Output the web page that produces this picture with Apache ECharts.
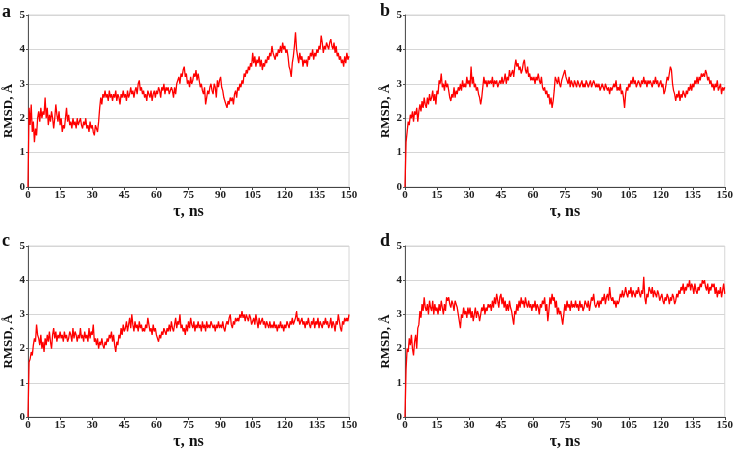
<!DOCTYPE html>
<html>
<head>
<meta charset="utf-8">
<script src="https://cdn.jsdelivr.net/npm/echarts@6/dist/echarts.min.js"></script>
<style>html,body{margin:0;padding:0;background:#fff}#c{width:736px;height:451px}</style>
</head>
<body>
<div id="c"></div>
<script>
// Sample times: every 0.5 ns from 0 to 150 ns
const times = [];
for (let i = 0; i <= 300; i++) times.push(i * 0.5);

const xTicks = [0, 15, 30, 45, 60, 75, 90, 105, 120, 135, 150];
const yTicks = [0, 1, 2, 3, 4, 5];
const panelLabels = ['a', 'b', 'c', 'd'];

const rmsdA = [
0.0,2.3,1.8,2.4,1.6,1.9,1.3,1.7,1.5,2.0,
2.2,1.9,2.3,2.0,2.2,2.1,2.6,2.0,2.3,1.8,
2.1,1.9,2.2,2.0,1.7,2.0,2.4,2.1,1.9,2.2,
1.8,2.0,1.6,1.8,1.7,2.0,2.3,1.9,2.1,1.8,
1.9,1.7,2.0,1.8,1.9,1.7,2.0,1.8,1.9,2.0,
1.8,1.7,1.9,1.8,2.0,1.7,1.8,1.6,1.9,1.7,
1.8,1.6,1.5,1.8,1.7,1.6,1.9,2.3,2.6,2.4,
2.7,2.6,2.8,2.6,2.7,2.5,2.8,2.6,2.7,2.5,
2.7,2.6,2.8,2.5,2.7,2.6,2.4,2.7,2.6,2.8,
2.6,2.7,2.5,2.8,2.6,2.7,2.9,2.7,2.8,2.6,
2.8,2.9,2.7,3.0,3.1,2.8,2.9,2.7,2.8,2.6,
2.7,2.5,2.8,2.7,2.6,2.8,2.5,2.7,2.8,2.6,
2.8,2.7,2.9,2.8,2.6,2.9,2.8,3.0,2.7,2.9,
2.8,2.9,2.7,2.8,2.9,2.8,2.6,2.9,2.7,3.0,
3.1,3.2,3.0,3.3,3.2,3.4,3.5,3.2,3.3,3.0,
3.1,2.9,3.2,3.0,3.1,3.3,3.2,3.4,3.1,3.3,
3.1,2.9,3.0,2.8,2.7,2.9,2.4,2.6,2.8,2.7,
2.9,3.0,2.8,2.7,3.0,2.9,2.6,3.1,2.9,3.1,
3.2,2.9,2.8,2.6,2.5,2.4,2.3,2.5,2.4,2.6,
2.5,2.6,2.4,2.7,2.8,2.6,2.9,2.8,3.0,2.9,
3.1,3.0,3.3,3.2,3.4,3.3,3.5,3.4,3.6,3.5,
3.9,3.6,3.8,3.5,3.7,3.6,3.8,3.5,3.7,3.4,
3.6,3.5,3.7,3.6,3.8,3.7,3.9,3.8,4.1,3.9,
3.8,3.7,3.9,3.8,4.0,3.9,4.1,3.9,4.2,4.0,
4.1,3.9,4.0,3.8,3.5,3.4,3.2,3.6,3.8,4.1,
4.5,4.0,3.8,3.6,3.9,3.7,3.8,3.5,3.7,3.6,
3.7,3.5,3.8,3.7,3.9,3.8,4.0,3.7,3.9,3.8,
4.0,3.9,4.1,4.0,4.4,4.2,3.9,4.1,4.0,4.2,
4.1,4.0,4.2,4.3,4.1,4.0,4.2,3.9,4.1,3.8,
3.9,3.7,3.8,3.6,3.7,3.5,3.8,3.6,3.9,3.7,
3.8];

const rmsdB = [
0.0,1.3,1.6,1.9,1.8,2.1,2.0,2.2,1.9,2.2,
2.1,2.3,1.9,2.2,2.4,2.2,2.5,2.3,2.6,2.4,
2.3,2.6,2.4,2.7,2.5,2.6,2.8,2.5,2.7,2.4,
2.8,2.7,3.1,3.0,3.3,2.9,3.0,2.8,3.1,2.9,
3.0,2.8,2.6,2.5,2.7,2.6,2.9,2.6,2.8,2.7,
2.9,2.8,3.0,2.8,3.1,2.9,3.0,2.9,3.2,3.0,
3.1,2.9,3.5,3.0,3.2,2.9,3.0,2.8,2.9,2.7,
2.6,2.4,2.6,2.9,3.2,3.0,3.1,2.9,3.1,3.0,
3.1,3.0,3.2,2.9,3.1,3.0,3.1,2.9,3.0,3.1,
3.0,3.2,3.0,3.1,3.3,3.0,3.2,3.1,3.4,3.2,
3.3,3.4,3.2,3.5,3.7,3.5,3.6,3.4,3.5,3.3,
3.4,3.6,3.7,3.4,3.3,3.5,3.2,3.3,3.1,3.2,
3.1,3.2,3.0,3.2,3.1,3.3,3.1,3.0,3.2,2.9,
2.8,2.9,2.7,2.8,2.6,2.7,2.4,2.6,2.3,2.5,
2.8,3.2,3.1,3.0,3.2,3.0,2.9,3.1,3.2,3.3,
3.4,3.2,3.1,3.0,3.2,2.9,3.1,3.0,2.9,3.1,
3.0,2.9,3.1,3.0,2.9,3.0,3.1,2.9,3.0,2.9,
3.1,3.0,2.9,3.0,3.1,2.9,3.0,3.1,3.0,2.9,
3.0,2.9,3.0,2.8,2.9,3.0,2.9,2.8,3.0,2.9,
2.8,2.9,2.7,2.9,2.8,2.9,3.0,2.9,3.1,2.8,
2.9,2.8,3.0,2.7,2.8,2.6,2.3,2.7,2.9,2.8,
3.0,2.9,3.1,3.0,3.2,3.0,3.1,2.9,3.0,3.1,
3.0,2.9,3.1,3.0,3.2,3.0,3.1,2.9,3.1,3.0,
3.1,3.0,2.9,3.1,3.0,3.2,3.0,3.1,2.9,3.0,
3.1,2.9,3.0,2.7,2.8,3.0,3.2,3.1,3.3,3.5,
3.4,3.0,2.8,2.7,2.5,2.7,2.6,2.8,2.5,2.7,
2.6,2.8,2.7,2.6,2.8,2.7,2.9,2.8,3.0,2.8,
3.0,2.9,3.1,3.0,3.2,3.0,3.2,3.1,3.3,3.2,
3.3,3.2,3.4,3.3,3.1,3.2,3.0,3.1,2.9,3.0,
2.8,3.0,2.9,3.1,2.8,2.9,3.0,2.7,2.9,2.8,
2.9];

const rmsdC = [
0.0,1.6,1.7,1.9,1.8,2.1,2.3,2.2,2.7,2.4,
2.3,2.1,2.4,2.0,2.2,1.9,2.3,2.1,2.4,2.2,
2.5,2.2,2.0,2.4,2.6,2.3,2.5,2.2,2.4,2.3,
2.5,2.3,2.4,2.2,2.5,2.3,2.4,2.2,2.3,2.5,
2.4,2.2,2.6,2.3,2.5,2.4,2.2,2.4,2.3,2.6,
2.3,2.4,2.2,2.5,2.3,2.4,2.2,2.6,2.3,2.5,
2.4,2.7,2.2,2.3,2.1,2.3,2.0,2.2,2.1,2.3,
2.1,2.0,2.2,2.1,2.3,2.2,2.4,2.3,2.5,2.2,
2.4,2.1,1.9,2.2,2.1,2.4,2.3,2.6,2.4,2.7,
2.5,2.6,2.8,2.5,2.7,2.9,2.6,3.0,2.7,2.5,
2.8,2.6,2.7,2.5,2.8,2.6,2.7,2.5,2.6,2.5,
2.7,2.6,2.9,2.7,2.5,2.6,2.4,2.7,2.5,2.6,
2.4,2.3,2.2,2.4,2.3,2.5,2.4,2.6,2.5,2.4,
2.6,2.5,2.7,2.5,2.8,2.6,2.5,2.7,2.9,2.6,
2.8,2.7,3.0,2.6,2.7,2.5,2.6,2.4,2.7,2.5,
2.8,2.6,2.9,2.7,2.6,2.8,2.5,2.7,2.6,2.8,
2.6,2.7,2.5,2.8,2.6,2.7,2.5,2.8,2.6,2.7,
2.6,2.8,2.7,2.6,2.7,2.5,2.7,2.6,2.8,2.6,
2.7,2.6,2.8,2.6,2.5,2.7,2.8,2.7,2.9,3.0,
2.7,2.6,2.8,2.7,2.9,2.8,2.9,2.8,3.0,2.9,
3.1,2.9,3.0,2.8,3.0,2.9,2.8,3.0,2.9,2.7,
2.8,2.9,2.7,3.0,2.8,2.6,2.9,2.7,2.8,2.9,
2.7,2.8,2.6,2.8,2.7,2.6,2.8,2.6,2.7,2.6,
2.8,2.6,2.7,2.5,2.7,2.6,2.8,2.6,2.7,2.5,
2.7,2.6,2.8,2.7,2.6,2.8,2.7,2.9,2.7,2.8,
2.9,3.1,2.8,2.9,2.7,2.8,2.9,2.7,2.8,2.6,
2.8,2.7,2.9,2.7,2.6,2.8,2.7,2.9,2.6,2.8,
2.7,2.9,2.6,2.8,2.7,2.6,2.8,2.7,2.9,2.7,
2.8,2.6,2.7,2.9,2.6,2.8,2.7,2.5,2.8,2.7,
3.0,2.8,2.6,2.5,2.8,2.7,2.9,2.8,2.9,2.8,
3.0];

const rmsdD = [
0.0,1.4,2.0,1.9,2.3,2.1,2.4,2.0,1.8,2.2,
2.4,2.0,2.6,2.7,3.1,2.9,3.3,3.1,3.5,3.2,
3.1,3.3,3.0,3.4,3.2,3.1,3.4,3.0,3.3,3.1,
3.2,3.0,3.3,3.1,3.4,3.2,3.0,3.3,3.1,3.5,
3.4,3.5,3.3,3.2,3.4,3.3,3.1,3.4,3.3,3.2,
3.0,2.8,2.6,3.0,2.9,3.2,3.0,3.1,2.9,3.2,
3.0,3.2,2.9,3.1,2.8,3.0,3.2,2.9,3.1,3.0,
2.8,3.0,3.2,3.1,3.3,3.0,3.2,3.1,3.3,3.2,
3.3,3.1,3.4,3.2,3.5,3.3,3.6,3.4,3.2,3.5,
3.6,3.3,3.5,3.2,3.4,3.1,3.3,3.1,3.4,3.2,
3.1,2.9,2.7,3.1,3.0,3.3,3.1,3.4,3.2,3.5,
3.3,3.4,3.2,3.5,3.3,3.2,3.4,3.2,3.3,3.1,
3.3,3.2,3.4,3.1,3.3,3.2,3.0,3.3,3.2,3.4,
3.3,3.5,3.1,3.3,2.8,3.1,3.5,3.3,3.6,3.4,
3.5,3.2,3.4,3.0,3.2,3.0,3.1,2.9,2.7,3.0,
3.3,3.1,3.4,3.2,3.3,3.1,3.4,3.2,3.3,3.2,
3.4,3.2,3.3,3.1,3.4,3.2,3.3,3.1,3.2,3.4,
3.3,3.2,3.4,3.1,3.3,3.5,3.4,3.6,3.3,3.2,
3.3,3.4,3.2,3.4,3.3,3.5,3.4,3.6,3.3,3.5,
3.6,3.4,3.8,3.5,3.4,3.5,3.3,3.4,3.2,3.4,
3.3,3.4,3.6,3.5,3.7,3.5,3.6,3.8,3.6,3.5,
3.7,3.6,3.8,3.5,3.7,3.6,3.5,3.7,3.6,3.8,
3.6,3.5,3.7,3.6,4.1,3.5,3.3,3.6,3.5,3.8,
3.7,3.6,3.8,3.5,3.7,3.6,3.5,3.7,3.6,3.4,
3.5,3.6,3.4,3.3,3.5,3.4,3.6,3.5,3.3,3.5,
3.4,3.6,3.5,3.3,3.4,3.6,3.5,3.7,3.6,3.8,
3.7,3.9,3.6,3.8,3.7,3.9,3.8,4.0,3.7,3.9,
3.8,3.6,3.9,3.7,3.6,3.8,3.7,3.9,3.8,4.0,
3.9,4.0,3.8,3.7,3.9,3.6,3.8,3.7,3.9,3.8,
3.9,3.6,3.8,3.5,3.7,3.6,3.8,3.5,3.7,3.9,
3.6];

const seriesValues = [rmsdA, rmsdB, rmsdC, rmsdD];

const FONT = '"Liberation Serif", "Times New Roman", serif';
const grids = [
  {left: 28, top: 15, width: 321, height: 172},
  {left: 405, top: 15, width: 321, height: 172},
  {left: 28, top: 246, width: 321, height: 171},
  {left: 405, top: 246, width: 321, height: 171}
].map(g => Object.assign({show: true, borderColor: '#d6d6d6', borderWidth: 1, backgroundColor: 'transparent'}, g));

const xAxes = [], yAxes = [], series = [];
for (let k = 0; k < 4; k++) {
  xAxes.push({
    gridIndex: k, type: 'value', min: 0, max: 150, interval: 15,
    name: 'τ, ns', nameLocation: 'middle', nameGap: 17,
    nameTextStyle: {fontFamily: FONT, fontWeight: 'bold', fontSize: 16, color: '#111'},
    axisLine: {show: true, onZero: false, lineStyle: {color: '#444', width: 1}},
    axisTick: {show: true, length: 3, lineStyle: {color: '#444'}},
    axisLabel: {fontFamily: FONT, fontWeight: 'bold', fontSize: 11, color: '#222', margin: 3,
      formatter: v => xTicks.includes(v) ? String(v) : ''},
    splitLine: {show: false}
  });
  yAxes.push({
    gridIndex: k, type: 'value', min: 0, max: 5, interval: 1,
    name: 'RMSD, Å', nameLocation: 'middle', nameGap: 12,
    nameTextStyle: {fontFamily: FONT, fontWeight: 'bold', fontSize: 13, color: '#111', padding: [0, 0, 0, -20]},
    axisLine: {show: true, lineStyle: {color: '#555', width: 1}},
    axisTick: {show: true, length: 2, lineStyle: {color: '#555'}},
    axisLabel: {fontFamily: FONT, fontWeight: 'bold', fontSize: 11, color: '#222', margin: 3,
      formatter: v => yTicks.includes(v) ? String(v) : ''},
    splitLine: {show: true, lineStyle: {color: '#d6d6d6', width: 1}}
  });
  series.push({
    type: 'line', xAxisIndex: k, yAxisIndex: k,
    data: times.map((t, i) => [t, seriesValues[k][i]]),
    showSymbol: false, symbol: 'none', sampling: null,
    lineStyle: {color: '#ff0000', width: 1.3},
    itemStyle: {color: '#ff0000'},
    animation: false, silent: true
  });
}

const labelPos = [[2, 17], [380, 16], [2, 246], [380, 246]];
const graphic = panelLabels.map((s, k) => ({
  type: 'text', left: labelPos[k][0], top: labelPos[k][1] - 14,
  style: {text: s, fontFamily: FONT, fontWeight: 'bold', fontSize: 18, fill: '#111'}
}));

const chart = echarts.init(document.getElementById('c'), null, {renderer: 'canvas'});
chart.setOption({
  animation: false,
  backgroundColor: '#ffffff',
  grid: grids, xAxis: xAxes, yAxis: yAxes, series: series, graphic: graphic
});
</script>
</body>
</html>
